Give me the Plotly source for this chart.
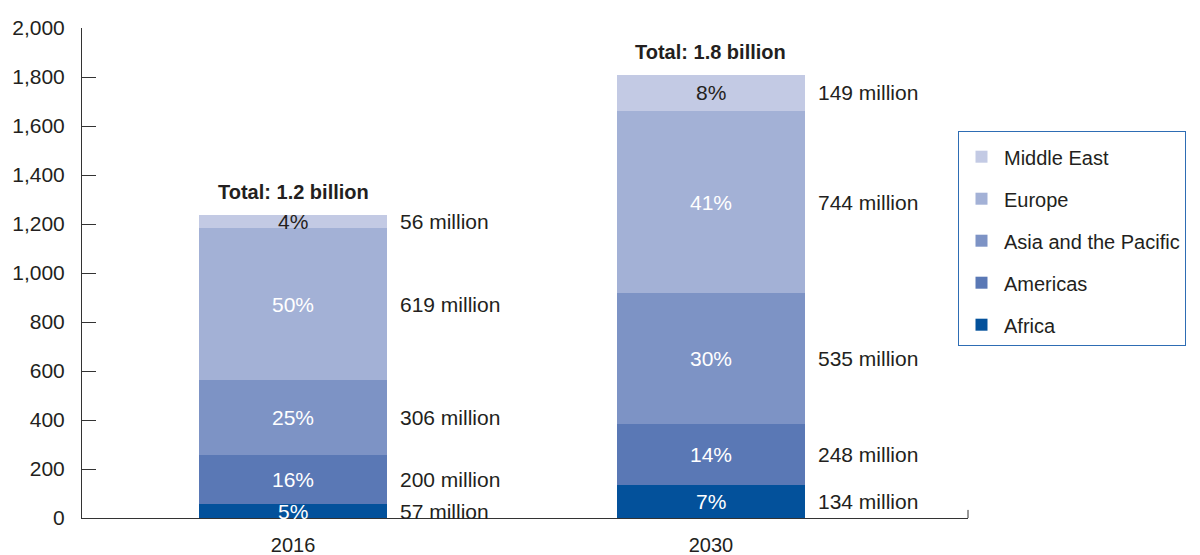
import plotly.graph_objects as go

# Tourist arrivals by region (millions)
years = ["2016", "2030"]
regions = ["Africa", "Americas", "Asia and the Pacific", "Europe", "Middle East"]
africa = [57, 134]
americas = [200, 248]
asia_pacific = [306, 535]
europe = [619, 744]
middle_east = [56, 149]

# Shares of the yearly total, in percent
africa_pct = [5, 7]
americas_pct = [16, 14]
asia_pacific_pct = [25, 30]
europe_pct = [50, 41]
middle_east_pct = [4, 8]

totals_text = ["Total: 1.2 billion", "Total: 1.8 billion"]
y_ticks = [0, 200, 400, 600, 800, 1000, 1200, 1400, 1600, 1800, 2000]

series = [africa, americas, asia_pacific, europe, middle_east]
shares = [africa_pct, americas_pct, asia_pacific_pct, europe_pct, middle_east_pct]
colors = ["#03519B", "#5A78B5", "#7D93C5", "#A3B1D6", "#C3CAE4"]
pct_colors = ["white", "white", "white", "white", "#231F20"]

FONT = "Liberation Sans, Arial, Helvetica, sans-serif"
TEXT = "#231F20"
FS = 21

xs = list(range(len(years)))
BAR_W = 0.45

fig = go.Figure()
for k, (name, vals, col) in enumerate(zip(regions, series, colors)):
    fig.add_trace(go.Bar(
        x=xs, y=vals, name=name, marker=dict(color=col, line=dict(width=0)),
        width=BAR_W, legendgroup=name, legendrank=len(regions) - k,
        hoverinfo="skip",
    ))

annotations = []
cum = [0] * len(years)
for vals, pcts, pc in zip(series, shares, pct_colors):
    for i in xs:
        mid = cum[i] + vals[i] / 2
        annotations.append(dict(
            x=i, y=mid, xref="x", yref="y", text=f"{pcts[i]}%", showarrow=False,
            font=dict(family=FONT, size=FS, color=pc), xanchor="center", yanchor="middle",
        ))
        annotations.append(dict(
            x=i + BAR_W / 2, y=mid, xref="x", yref="y", text=f"{vals[i]} million",
            showarrow=False, font=dict(family=FONT, size=FS, color=TEXT),
            xanchor="left", yanchor="middle", xshift=11,
        ))
        cum[i] += vals[i]

for i in xs:
    annotations.append(dict(
        x=i, y=cum[i], xref="x", yref="y", text=f"<b>{totals_text[i]}</b>",
        showarrow=False, font=dict(family=FONT, size=FS - 1, color=TEXT),
        xanchor="center", yanchor="bottom", yshift=10,
    ))

fig.update_layout(
    width=1200, height=555,
    margin=dict(l=82, r=232, t=28, b=37, autoexpand=False),
    paper_bgcolor="white", plot_bgcolor="white",
    barmode="stack", bargap=0,
    font=dict(family=FONT, size=FS, color=TEXT),
    annotations=annotations,
    showlegend=True,
    legend=dict(
        x=(958 - 82) / 886, y=(518 - 131) / 490, xanchor="left", yanchor="top",
        bordercolor="#2E6DB4", borderwidth=1, bgcolor="white",
        font=dict(family=FONT, size=FS - 1, color=TEXT),
        traceorder="grouped", tracegroupgap=13, itemwidth=35,
        title=dict(text=" ", font=dict(size=4)),
    ),
    xaxis=dict(
        range=[-0.505, 1.615], tickmode="array", tickvals=xs, ticktext=years,
        showline=True, linecolor="#333333", linewidth=1, ticks="",
        showgrid=False, zeroline=False, ticklabelstandoff=9,
        tickfont=dict(family=FONT, size=FS - 1, color=TEXT), fixedrange=True,
    ),
    yaxis=dict(
        range=[0, 2000], tickmode="array", tickvals=y_ticks,
        tickformat=",d", showline=True, linecolor="#333333", linewidth=1,
        ticks="inside", ticklen=14, tickcolor="#333333", tickwidth=1,
        showgrid=False, zeroline=False, ticklabelstandoff=12,
        tickfont=dict(family=FONT, size=FS, color=TEXT), fixedrange=True,
    ),
    shapes=[dict(
        type="line", xref="x domain", yref="y", x0=1, x1=1, y0=0, y1=33,
        line=dict(color="#333333", width=1),
    )],
)

fig.write_html("out.html")
